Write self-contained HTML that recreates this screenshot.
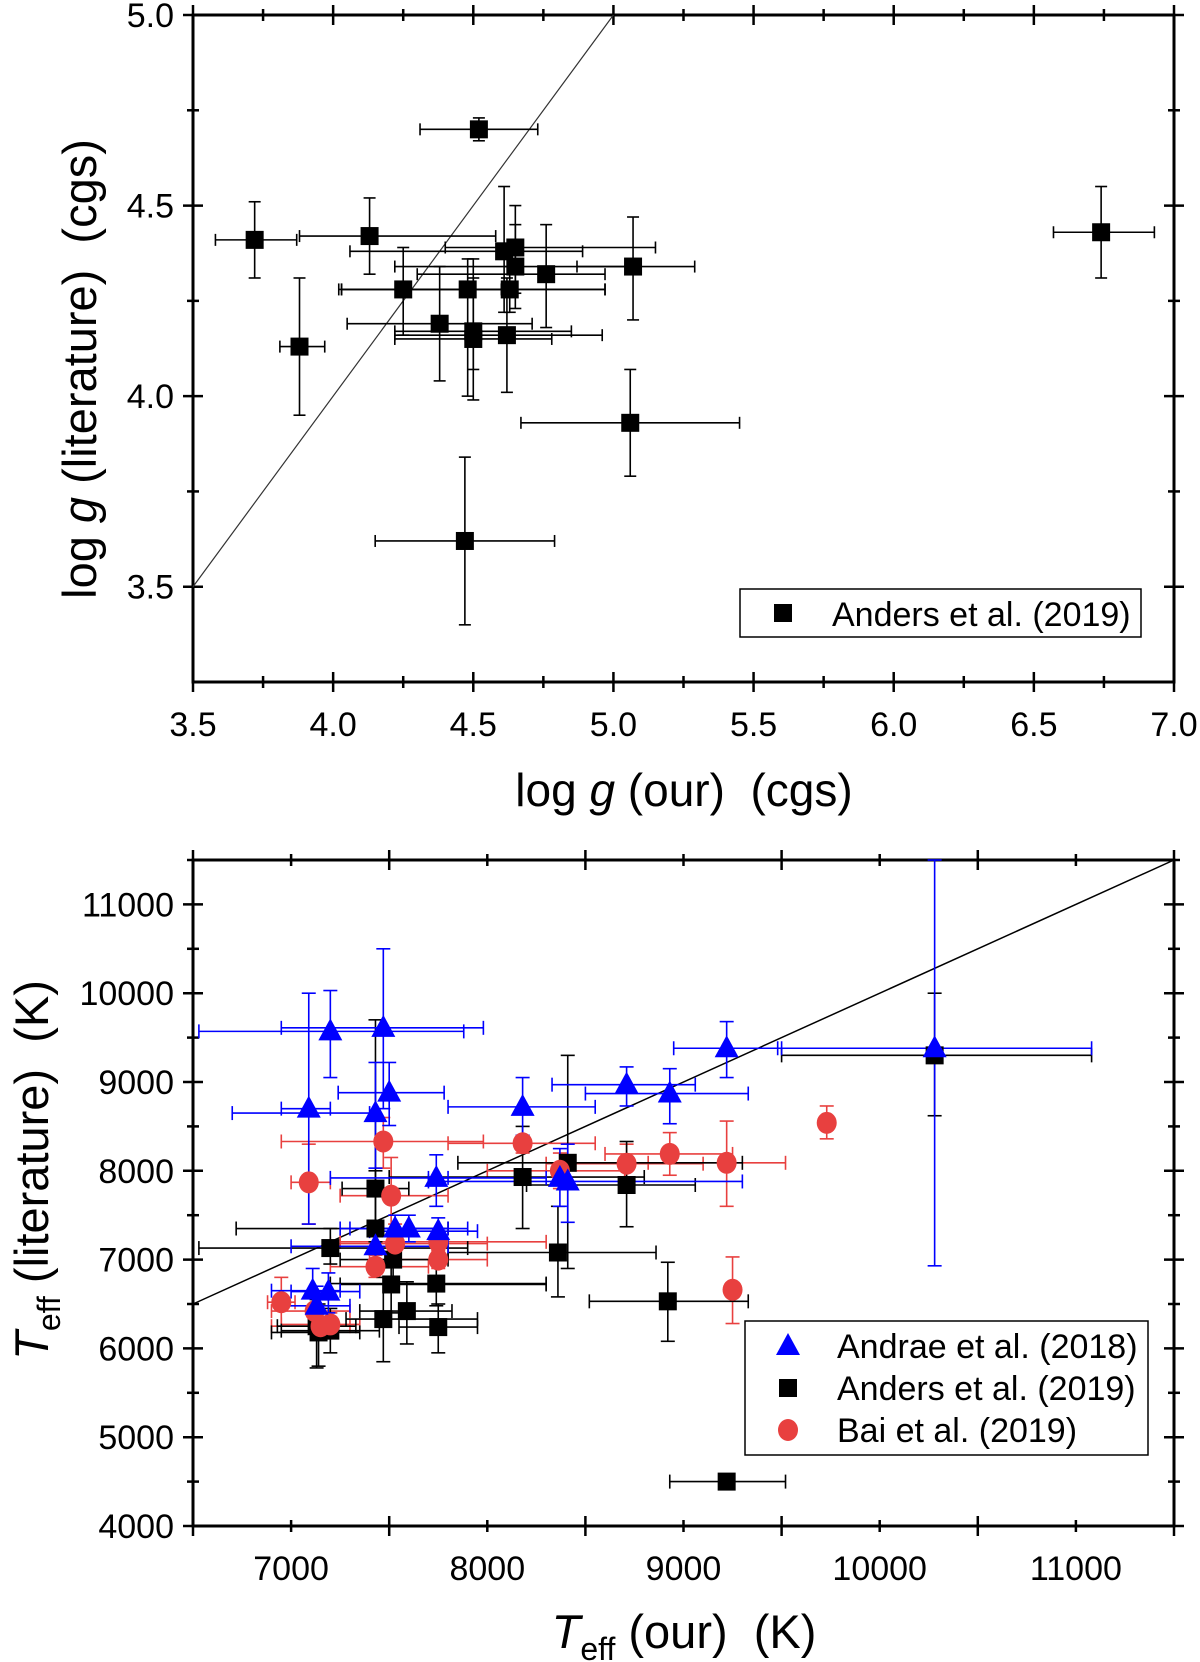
<!DOCTYPE html>
<html><head><meta charset="utf-8"><style>
html,body{margin:0;padding:0;background:#fff;}
svg{display:block;font-family:"Liberation Sans",Arial,sans-serif;}
text{white-space:pre;}
</style></head><body>
<svg id="fig" width="1200" height="1662" viewBox="0 0 1200 1662" xmlns="http://www.w3.org/2000/svg">
<g id="top"></g>
<g id="bot"></g>
</svg>
<script>
// ---- Top panel data: log g ----
const loggOur   = [3.72,3.88,4.13,4.25,4.38,4.48,4.50,4.50,4.52,4.61,4.62,4.63,4.65,4.65,4.76,5.07,5.06,4.47,6.74];
const loggLit   = [4.41,4.13,4.42,4.28,4.19,4.28,4.17,4.15,4.70,4.38,4.16,4.28,4.39,4.34,4.32,4.34,3.93,3.62,4.43];
const loggXlo   = [3.58,3.81,3.88,4.02,4.05,4.03,4.22,4.22,4.31,4.06,4.22,4.03,4.40,4.22,4.30,4.87,4.67,4.15,6.57];
const loggXhi   = [3.87,3.97,4.58,4.60,4.71,4.97,4.85,4.78,4.73,4.89,4.96,4.97,5.15,5.08,4.97,5.29,5.45,4.79,6.93];
const loggYlo   = [4.31,3.95,4.32,4.16,4.04,4.00,4.07,3.99,4.67,4.22,4.01,4.22,4.27,4.23,4.18,4.20,3.79,3.40,4.31];
const loggYhi   = [4.51,4.31,4.52,4.39,4.34,4.36,4.36,4.31,4.73,4.55,4.31,4.34,4.50,4.45,4.45,4.47,4.07,3.84,4.55];
const loggXTicks = ["3.5","4.0","4.5","5.0","5.5","6.0","6.5","7.0"];
const loggYTicks = ["3.5","4.0","4.5","5.0"];

// ---- Bottom panel data: Teff ----
const andraeOur = [7090,7200,7470,7430,7500,8180,8710,8930,9220,10280,7740,8370,8410,7430,7530,7600,7750,7110,7190,7130];
const andraeLit = [8700,9570,9610,8650,8880,8720,8970,8870,9380,9380,7920,7920,7880,7150,7350,7350,7320,6650,6640,6480];
const andraeXlo = [6950,6530,6950,6700,7240,7800,8330,8500,8950,9480,7200,7700,7700,7000,7250,7300,7400,6900,7000,6950];
const andraeXhi = [7200,7880,7980,7400,7780,8550,9060,9330,9500,11080,7800,8300,9300,7800,7800,7900,7950,7250,7350,7300];
const andraeYlo = [7400,9050,8700,8030,8510,8400,8730,8530,9050,6930,7600,7600,7420,6950,7150,7200,7150,6400,6400,6300];
const andraeYhi = [10000,10030,10500,9220,9220,9050,9170,9150,9680,11500,8180,8250,8300,7350,7500,7500,7470,6900,6850,6700];

const andersOur = [7140,7200,7130,7200,7430,7430,7470,7510,7520,7590,7740,7750,8180,8360,8410,8710,8920,9220,10280];
const andersLit = [6180,6200,6250,7130,7800,7350,6330,6720,7000,6420,6730,6240,7930,7080,8090,7840,6530,4500,9300];
const andersXlo = [6900,6950,6930,6530,7260,6720,7280,7250,7250,7350,7200,7550,7500,7800,7850,8200,8520,8930,9500];
const andersXhi = [7350,7450,7330,7900,7600,7800,7950,8300,7800,7820,8300,7950,8800,8860,9300,9060,9330,9520,11080];
const andersYlo = [5800,5950,5780,6950,7200,6850,5850,6400,6700,6050,6480,5950,7350,6580,6900,7370,6080,4500,8620];
const andersYhi = [6500,6450,6550,7350,8000,9700,6800,7000,7300,6750,7000,6500,8500,7600,9300,8330,6970,4500,10000];

const baiOur = [6950,7090,7470,7510,7430,7530,7750,7750,8180,8370,8710,8930,9220,9250,9730,7120,7150,7200];
const baiLit = [6520,7870,8330,7720,6920,7180,7200,7000,8310,8000,8080,8190,8090,6660,8540,6420,6250,6270];
const baiXlo = [6880,7000,6950,7250,7200,7200,7250,7400,7800,8000,8300,8600,8820,9250,9730,6900,6900,6950];
const baiXhi = [7020,7200,7980,7800,7700,8000,8300,8000,8550,8700,9100,9250,9520,9250,9730,7300,7300,7350];
const baiYlo = [6250,7400,8030,7200,6800,7000,7050,6900,8200,7800,7900,7950,7600,6280,8360,6250,6150,6150];
const baiYhi = [6800,8300,8600,8150,7050,7400,7350,7100,8400,8200,8300,8430,8560,7030,8730,6600,6400,6400];
const teffXTicks = ["7000","8000","9000","10000","11000"];
const teffYTicks = ["4000","5000","6000","7000","8000","9000","10000","11000"];

const NS="http://www.w3.org/2000/svg";
function mk(parent,tag,attrs,text){const e=document.createElementNS(NS,tag);for(const k in attrs)e.setAttribute(k,attrs[k]);if(text!==undefined)e.textContent=text;parent.appendChild(e);return e;}
function scale(d0,d1,p0,p1){return v=>p0+(v-d0)/(d1-d0)*(p1-p0);}

function frame(g,L,T,R,B,sx,sy,xMin,xMax,xStep,yMin,yMax,yStep,xTicks,yTicks,xLabY,yLabX){
  const box=mk(g,'rect',{x:L,y:T,width:R-L,height:B-T,fill:'none',stroke:'#000','stroke-width':3});
  
  
  for(let v=xMin;v<=xMax+1e-9;v+=xStep/2){
    const x=sx(v);const major=Math.abs(((v-xMin)/xStep)-Math.round((v-xMin)/xStep))<1e-6;
    const len=major?10:6;
    const t1=mk(g,'line',{x1:x,x2:x,y1:B-len,y2:B+len,stroke:'#000','stroke-width':2.5});
    
    
    mk(g,'line',{x1:x,x2:x,y1:T-len,y2:T+len,stroke:'#000','stroke-width':2.5});
  }
  for(let v=yMin;v<=yMax+1e-9;v+=yStep/2){
    const y=sy(v);const major=Math.abs(((v-yMin)/yStep)-Math.round((v-yMin)/yStep))<1e-6;
    const len=major?10:6;
    const t2=mk(g,'line',{x1:L-len,x2:L+len,y1:y,y2:y,stroke:'#000','stroke-width':2.5});
    
    
    mk(g,'line',{x1:R-len,x2:R+len,y1:y,y2:y,stroke:'#000','stroke-width':2.5});
  }
  xTicks.forEach(s=>{const t=mk(g,'text',{x:sx(parseFloat(s)),y:xLabY,'text-anchor':'middle','font-size':34},s);
    
    });
  yTicks.forEach(s=>{const t=mk(g,'text',{x:yLabX,y:sy(parseFloat(s))+12,'text-anchor':'end','font-size':34},s);
    
    });
}

function errbar(g,sx,sy,x,y,xlo,xhi,ylo,yhi,col,cap){
  const px=sx(x),py=sy(y);
  if(xhi>xlo){mk(g,'line',{x1:sx(xlo),x2:sx(xhi),y1:py,y2:py,stroke:col,'stroke-width':1.6});
    mk(g,'line',{x1:sx(xlo),x2:sx(xlo),y1:py-cap,y2:py+cap,stroke:col,'stroke-width':1.6});
    mk(g,'line',{x1:sx(xhi),x2:sx(xhi),y1:py-cap,y2:py+cap,stroke:col,'stroke-width':1.6});}
  if(yhi>ylo){mk(g,'line',{x1:px,x2:px,y1:sy(ylo),y2:sy(yhi),stroke:col,'stroke-width':1.6});
    mk(g,'line',{x1:px-cap,x2:px+cap,y1:sy(ylo),y2:sy(ylo),stroke:col,'stroke-width':1.6});
    mk(g,'line',{x1:px-cap,x2:px+cap,y1:sy(yhi),y2:sy(yhi),stroke:col,'stroke-width':1.6});}
}
function marker(g,type,px,py,col){
  let e;
  if(type==='sq') e=mk(g,'rect',{x:px-9,y:py-9,width:18,height:18,fill:col});
  else if(type==='tri') e=mk(g,'polygon',{points:`${px},${py-13} ${px-12},${py+9} ${px+12},${py+9}`,fill:col});
  else e=mk(g,'ellipse',{cx:px,cy:py,rx:10,ry:11,fill:col});
  return e;
}

// ===== Top panel =====
(function(){
  const g=document.getElementById('top');
  const L=193,R=1174,T=15,B=682;
  const sx=scale(3.5,7.0,L,R), sy=scale(3.25,5.0,B,T);
  frame(g,L,T,R,B,sx,sy,3.5,7.0,0.5,3.5,5.0,0.5,loggXTicks,loggYTicks,736,174);
  const d=mk(g,'line',{x1:sx(3.5),y1:sy(3.5),x2:sx(5.0),y2:sy(5.0),stroke:'#333','stroke-width':1.2});
  
  
  for(let i=0;i<loggOur.length;i++){
    errbar(g,sx,sy,loggOur[i],loggLit[i],loggXlo[i],loggXhi[i],loggYlo[i],loggYhi[i],'#000',6);
  }
  for(let i=0;i<loggOur.length;i++){
    const m=marker(g,'sq',sx(loggOur[i]),sy(loggLit[i]),'#000');
    
    
  }
  const lg=mk(g,'g',{});
  
  
  mk(lg,'rect',{x:740,y:589,width:401,height:48,fill:'#fff',stroke:'#000','stroke-width':1.5});
  marker(lg,'sq',783,613,'#000');
  const lt=mk(lg,'text',{x:832,y:626,'font-size':34},'Anders et al. (2019)');
  
  
  const xt=mk(g,'text',{x:684,y:806,'text-anchor':'middle','font-size':46});
  xt.innerHTML='log <tspan font-style="italic">g</tspan> (our)  (cgs)';
  
  
  const yt=mk(g,'text',{x:0,y:0,'text-anchor':'middle','font-size':47,transform:'translate(96,369) rotate(-90)'});
  yt.innerHTML='log <tspan font-style="italic">g</tspan> (literature)  (cgs)';
  
  
})();

// ===== Bottom panel =====
(function(){
  const g=document.getElementById('bot');
  const L=193,R=1174,T=860,B=1526;
  const sx=scale(6500,11500,L,R), sy=scale(4000,11500,B,T);
  frame(g,L,T,R,B,sx,sy,6500,11500,1000,4000,11500,1000,teffXTicks,teffYTicks,1580,174);
  const d=mk(g,'line',{x1:sx(6500),y1:sy(6500),x2:sx(11500),y2:sy(11500),stroke:'#000','stroke-width':1.5});
  
  
  const red='#e8403f', blue='#0000ff';
  for(let i=0;i<baiOur.length;i++) errbar(g,sx,sy,baiOur[i],baiLit[i],baiXlo[i],baiXhi[i],baiYlo[i],baiYhi[i],red,7);
  for(let i=0;i<andersOur.length;i++) errbar(g,sx,sy,andersOur[i],andersLit[i],andersXlo[i],andersXhi[i],andersYlo[i],andersYhi[i],'#000',7);
  for(let i=0;i<andraeOur.length;i++) errbar(g,sx,sy,andraeOur[i],andraeLit[i],andraeXlo[i],andraeXhi[i],andraeYlo[i],andraeYhi[i],blue,7);
  for(let i=0;i<andersOur.length;i++){const m=marker(g,'sq',sx(andersOur[i]),sy(andersLit[i]),'#000');
    
    }
  for(let i=0;i<baiOur.length;i++){const m=marker(g,'ci',sx(baiOur[i]),sy(baiLit[i]),red);
    
    }
  for(let i=0;i<andraeOur.length;i++){const m=marker(g,'tri',sx(andraeOur[i]),sy(andraeLit[i]),blue);
    
    }
  const lg=mk(g,'g',{});
  
  
  mk(lg,'rect',{x:745,y:1321,width:403,height:134,fill:'#fff',stroke:'#000','stroke-width':1.5});
  marker(lg,'tri',788,1346,blue);
  marker(lg,'sq',788,1388,'#000');
  marker(lg,'ci',788,1430,red);
  const labels=['Andrae et al. (2018)','Anders et al. (2019)','Bai et al. (2019)'];
  labels.forEach((s,k)=>{const t=mk(lg,'text',{x:837,y:1358+k*42,'font-size':34},s);
    
    });
  const xt=mk(g,'text',{x:684,y:1648,'text-anchor':'middle','font-size':47});
  xt.innerHTML='<tspan font-style="italic">T</tspan><tspan font-size="32" dy="12">eff</tspan><tspan dy="-12"> (our)  (K)</tspan>';
  
  
  const yt=mk(g,'text',{x:0,y:0,'text-anchor':'middle','font-size':47,transform:'translate(48,1170) rotate(-90)'});
  yt.innerHTML='<tspan font-style="italic">T</tspan><tspan font-size="32" dy="12">eff</tspan><tspan dy="-12"> (literature)  (K)</tspan>';
  
  
})();
</script>
</body></html>
